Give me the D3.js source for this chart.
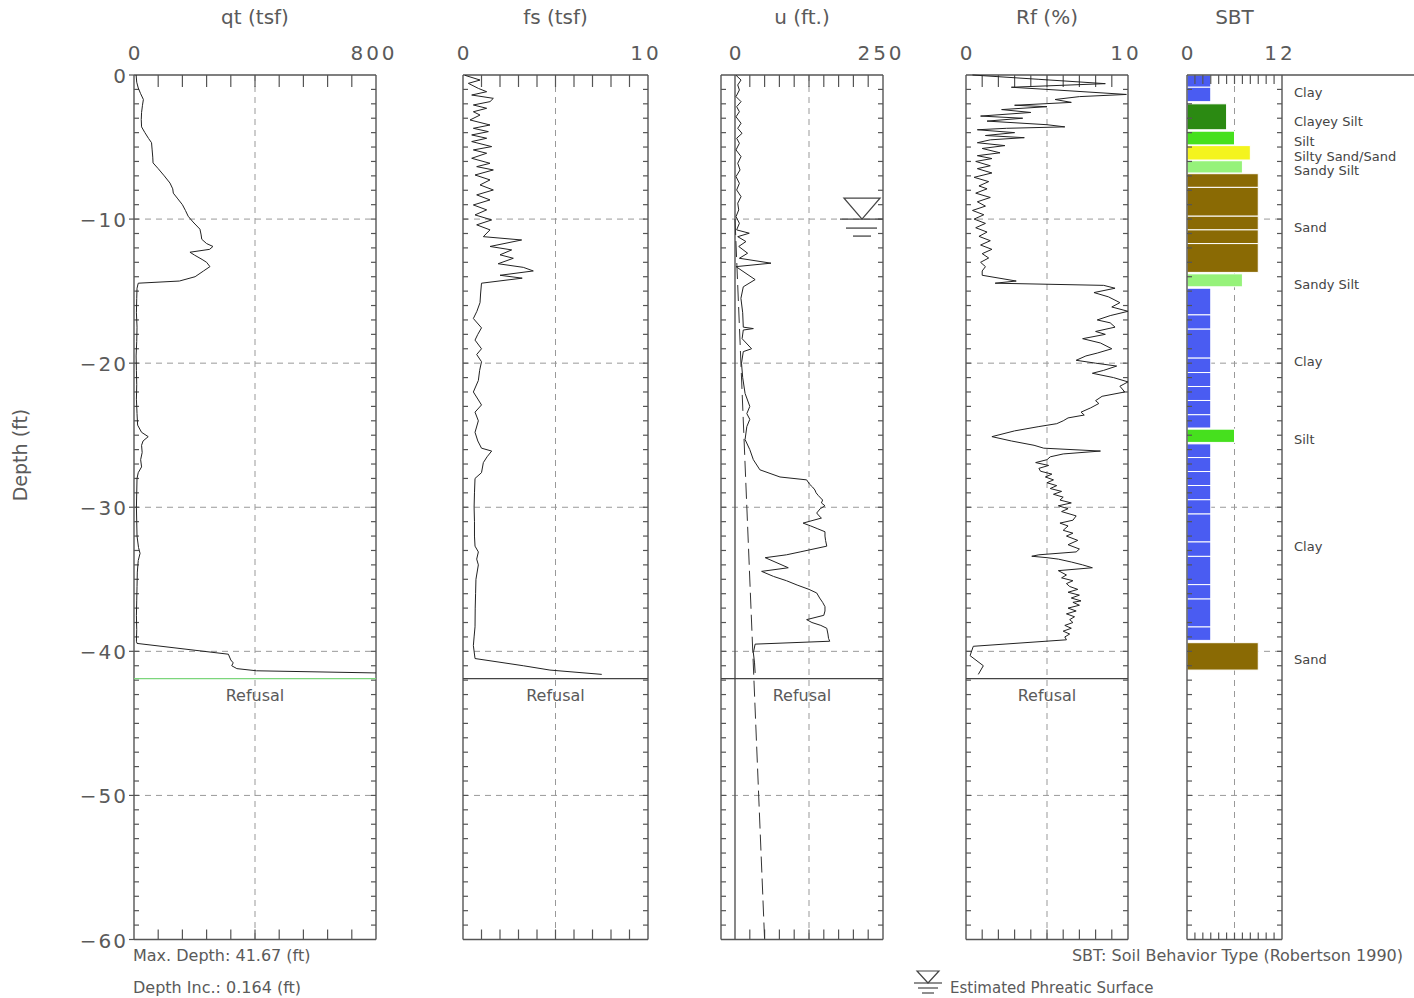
<!DOCTYPE html>
<html>
<head>
<meta charset="utf-8">
<script src="https://cdn.jsdelivr.net/npm/d3@7"></script>
<style>
body{margin:0;background:#fff;}
text{font-family:"DejaVu Sans",sans-serif;fill:#5a5a5a;}
</style>
</head>
<body>
<svg id="chart" width="1414" height="998"></svg>
<script>
var depthTicks = [0,10,20,30,40,50,60];

var qtDepth = [0,0.5,0.9,1.3,1.7,2.1,2.6,3.1,3.6,4.0,4.4,4.7,5.2,5.7,6.1,6.5,7.0,7.5,7.9,8.2,8.6,9.0,9.4,9.8,10.2,10.7,11.1,11.4,11.7,11.9,12.1,12.3,12.5,12.8,13.0,13.3,13.6,14.0,14.3,14.45,14.8,15.5,16.5,17.5,18.5,19.5,20.5,21.5,22.5,23.5,24.3,24.8,25.1,25.4,25.7,26.2,26.7,27.2,27.6,28.0,29,30,31,32,32.8,33.2,33.7,34.5,35.5,36.5,37.5,38.5,39.3,39.45,40.2,40.6,40.8,41.0,41.2,41.35,41.5];
var qtValue = [7,9,14,22,31,28,25,24,25,36,48,58,60,62,63,80,100,119,128,130,145,160,170,179,195,218,222,224,240,261,250,185,200,225,240,251,230,202,150,14,10,9,8,10,9,7,8,9,8,10,12,25,47,30,25,27,22,25,14,10,9,8,9,10,15,20,14,11,10,9,8,9,8,10,312,320,328,323,340,405,800];

var fsDepth = [0.02,0.35,0.58,0.93,1.16,1.39,1.62,1.85,2.08,2.31,2.55,2.78,3.12,3.47,3.7,3.93,4.16,4.39,4.62,4.97,5.2,5.43,5.78,6.13,6.36,6.59,6.94,7.28,7.63,7.98,8.32,8.67,9.02,9.36,9.71,10.06,10.4,10.75,11.22,11.45,11.9,12.14,12.48,12.72,13.1,13.35,13.6,13.9,14.1,14.45,15.2,15.8,16.4,16.9,17.55,18.0,18.4,19.0,19.4,19.9,20.5,21.2,22.0,22.9,23.4,24.0,24.8,25.4,25.9,26.1,26.5,26.9,27.6,28.0,29,30,31,32,32.7,33.1,33.6,34,35,36,37,38.3,39.0,39.6,40.5,41.0,41.3,41.6];
var fsValue = [0.1,0.92,0.29,0.83,1.28,0.47,1.64,1.46,0.56,1.28,0.56,0.92,0.38,1.46,0.56,1.37,0.47,1.28,0.47,1.55,0.56,1.28,0.47,1.46,0.74,1.64,0.65,1.46,0.92,1.64,0.74,1.46,0.56,1.28,0.65,1.55,0.74,1.46,1.1,3.17,1.46,2.63,2.0,2.72,1.9,3.26,3.8,2.0,3.2,1.0,0.95,0.92,0.75,0.56,1.0,0.8,0.65,1.0,0.74,1.0,0.9,0.83,0.56,1.0,0.65,0.83,0.65,0.8,1.0,1.55,1.3,1.1,1.0,0.65,0.62,0.6,0.62,0.62,0.65,0.83,0.74,0.83,0.7,0.68,0.66,0.65,0.6,0.56,0.65,3.26,4.7,7.5];

var uDepth = [0.02,0.35,0.69,1.04,1.5,1.85,2.2,2.55,2.9,3.35,3.7,4.05,4.39,4.74,5.2,5.66,6.13,6.59,7.05,7.52,7.98,8.44,8.9,9.36,9.83,10.29,10.75,10.98,11.22,11.56,11.9,12.37,12.72,13.06,13.3,14.2,14.7,15.5,16.5,17.5,17.6,17.7,18.3,19.0,19.2,20.0,21.0,22.1,23.0,23.5,23.9,24.4,25.3,26.0,26.7,27.4,27.9,28.1,28.4,28.6,28.8,29.0,29.2,29.5,29.7,29.9,30.1,30.4,30.6,30.75,31.1,31.3,31.5,31.7,32.0,32.3,32.7,33.1,33.3,33.5,34.2,34.45,34.8,35.1,35.4,35.7,35.95,36.3,36.6,36.9,37.2,37.5,37.8,38.0,38.2,38.4,38.8,39.1,39.3,39.5,40.1,40.8,41.5];
var uValue = [1.7,10.2,4.6,7.4,1.7,10.2,2.8,7.4,1.7,10.2,4.6,11.9,2.8,7.4,1.7,10.2,4.6,8.5,1.7,7.4,2.8,10.2,4.6,6.3,1.7,7.4,2.8,24.1,4.6,18.5,6.3,21.3,7.4,60.8,1.7,34,14,10,13,14,31,14,12,28,14,11,13,17,25,20,25,20,17,25,31,42,76,121,126,131,135,137,141,148,146,152,144,138,142,146,115,128,140,152,152,153,155,110,87,51,90,45,65,87,105,125,138,143,148,152,152,150,121,130,145,155,157,158,160,34,31,33,34];

// hydrostatic pressure line (end points)
var hydroDepth = [10,60];
var hydroU = [0,50];
var waterDepth = 10;

var rfDepth = [0,0.3,0.6,0.85,1.0,1.35,1.5,1.7,1.9,2.1,2.2,2.4,2.6,2.85,3.0,3.2,3.45,3.6,3.7,3.8,4.0,4.2,4.35,4.5,4.7,4.9,5.1,5.4,5.6,5.8,6.0,6.3,6.5,6.8,7.1,7.4,7.7,7.9,8.2,8.5,8.8,9.1,9.4,9.7,10.0,10.3,10.6,10.9,11.2,11.5,11.8,12.1,12.4,12.7,13.0,13.3,13.6,13.9,14.3,14.45,14.6,14.8,15.1,15.4,15.8,16.1,16.4,16.7,17.0,17.2,17.5,17.8,18.0,18.3,18.6,19.0,19.3,19.5,19.8,20.0,20.2,20.5,20.7,21.0,21.3,21.6,22.0,22.3,22.6,22.8,23.1,23.4,23.6,23.8,24.0,24.2,24.4,24.7,25.1,25.4,25.7,25.9,26.1,26.3,26.5,26.7,26.9,27.1,27.3,27.5,27.7,27.9,28.1,28.3,28.5,28.7,28.9,29.1,29.3,29.5,29.7,29.9,30.1,30.3,30.6,30.9,31.1,31.3,31.6,31.8,32.0,32.3,32.6,32.9,33.1,33.3,33.4,33.5,33.6,33.8,34.0,34.2,34.4,34.7,34.9,35.1,35.3,35.5,35.7,35.9,36.1,36.3,36.5,36.6,36.8,37.0,37.2,37.4,37.6,37.8,38.0,38.2,38.4,38.6,38.8,39.0,39.2,39.65,40.3,41.0,41.6];
var rfValue = [0.4,4.5,8.6,2.8,5.0,9.9,7.0,5.5,6.5,3.0,5.0,2.2,4.0,0.9,3.5,1.3,5.0,6.1,2.5,0.7,3.0,1.2,3.6,1.5,0.7,2.4,1.0,2.1,0.7,1.6,0.6,1.5,0.7,1.6,0.5,1.4,0.8,1.3,0.6,1.5,0.7,1.2,0.4,1.1,0.5,1.2,0.6,1.3,0.8,1.5,0.9,1.6,1.0,1.4,0.9,1.2,1.0,1.0,3.1,1.8,8.5,9.2,7.9,8.8,9.5,9.0,10,8.9,8.1,8.9,9.2,8.0,8.6,7.2,8.3,9.0,8.1,7.4,6.8,8.0,9.3,8.5,7.8,9.1,10,9.5,9.8,8.4,8.0,8.2,7.7,7.1,7.3,6.3,6.0,5.6,4.5,3.0,1.6,2.8,4.2,4.8,8.3,6.0,5.2,5.0,4.3,5.1,4.5,4.6,5.3,4.9,5.4,5.0,5.6,5.2,5.9,5.4,6.0,5.8,6.5,5.7,6.3,5.9,6.8,6.6,5.8,6.3,6.0,6.6,6.2,6.9,6.3,7.0,6.8,4.5,4.06,5.0,5.7,6.5,7.2,7.8,5.7,6.2,5.9,6.6,6.2,6.4,6.9,6.3,7.0,6.5,7.1,6.6,7.0,6.3,6.8,6.2,6.7,6.4,6.6,6.1,6.5,6.0,6.4,6.1,6.2,0.45,0.25,1.07,0.76];

var sbtTop  = [0,0.85,2.0,3.9,4.9,5.95,6.85,7.8,9.8,10.75,11.7,13.8,14.8,16.65,17.64,19.65,20.65,21.62,22.59,23.58,24.58,25.6,26.55,27.52,28.49,29.48,30.47,32.41,33.41,35.37,36.37,38.31,39.4];
var sbtBase = [0.85,1.85,3.8,4.85,5.9,6.8,7.8,9.8,10.75,11.7,13.7,14.7,16.65,17.64,19.65,20.65,21.62,22.59,23.58,24.5,25.5,26.55,27.52,28.49,29.48,30.47,32.41,33.41,35.37,36.37,38.31,39.24,41.3];
var sbtZone = [3,3,5,6,8,7,9,9,9,9,9,7,3,3,3,3,3,3,3,3,6,3,3,3,3,3,3,3,3,3,3,3,9];

var zoneNum   = [3,5,6,7,8,9];
var zoneColor = ["#4a5cf2","#2b8a12","#46e01e","#96f27a","#f4f41e","#8a6a04"];

var sbtLabel      = ["Clay","Clayey Silt","Silt","Silty Sand/Sand","Sandy Silt","Sand","Sandy Silt","Clay","Silt","Clay","Sand"];
var sbtLabelDepth = [1.18,3.19,4.58,5.62,6.59,10.54,14.5,19.84,25.25,32.67,40.5];

var refusalDepth = 41.9;

// ---- layout ----
var svg = d3.select("#chart");
var y = d3.scaleLinear().domain([0,60]).range([75,939.5]);

var panels = [
	{title:"qt (tsf)", max:800, step:80, left:134, right:376, box:134, depth:qtDepth, val:qtValue, label:"800"},
	{title:"fs (tsf)", max:10, step:1, left:463, right:648, box:463, depth:fsDepth, val:fsValue, label:"10"},
	{title:"u (ft.)", max:250, step:25, left:735, right:883, box:721, depth:uDepth, val:uValue, label:"250"},
	{title:"Rf (%)", max:10, step:1, left:966, right:1128, box:966, depth:rfDepth, val:rfValue, label:"10"},
	{title:"SBT", max:12, step:1, left:1187, right:1282, box:1187, label:"12"}
];

var frame = "#555";

panels.forEach(function(p, pi){
	p.x = d3.scaleLinear().domain([0,p.max]).range([p.left,p.right]);
	var g = svg.append("g");
	var cx = (p.box+p.right)/2;

	g.append("text").attr("x",cx).attr("y",24).attr("text-anchor","middle")
		.style("font-size","20px").text(p.title);
	g.append("text").attr("x",p.left).attr("y",60).attr("text-anchor","middle")
		.style("font-size","20px").text("0");
	g.append("text").attr("x",p.right-2).attr("y",60).attr("text-anchor","middle")
		.style("font-size","20px").style("letter-spacing","3px").text(p.label);

	// grid
	var grid = g.append("g").attr("stroke","#999").attr("stroke-dasharray","6,5").attr("fill","none");
	grid.append("line").attr("x1",p.x(p.max/2)).attr("x2",p.x(p.max/2))
		.attr("y1",y(0)).attr("y2",y(60));
	grid.selectAll("line.h").data([10,20,30,40,50]).enter().append("line")
		.attr("class","h")
		.attr("x1",p.box).attr("x2",p.right)
		.attr("y1",function(d){return y(d);}).attr("y2",function(d){return y(d);});

	// sbt bars
	if (pi===4){
		var sbt = sbtTop.map(function(t,i){return {top:t, base:sbtBase[i], zone:sbtZone[i]};});
		g.selectAll("rect.sbt").data(sbt).enter().append("rect")
			.attr("x",p.x(0))
			.attr("y",function(d){return y(d.top);})
			.attr("width",function(d){return p.x(d.zone)-p.x(0);})
			.attr("height",function(d){return y(d.base)-y(d.top);})
			.attr("fill",function(d){return zoneColor[zoneNum.indexOf(d.zone)];})
			.attr("stroke","#fff").attr("stroke-width",1);
		g.selectAll("text.sbtl").data(sbtLabel).enter().append("text")
			.attr("x",1294)
			.attr("y",function(d,i){return y(sbtLabelDepth[i])+5;})
			.style("font-size","13px").style("fill","#444")
			.text(function(d){return d;});
	}

	// frame
	var fr = g.append("g").attr("stroke",frame).attr("stroke-width",1.4).attr("fill","none");
	fr.append("line").attr("x1",p.box).attr("x2",p.right).attr("y1",y(0)).attr("y2",y(0));
	fr.append("line").attr("x1",p.box).attr("x2",p.right).attr("y1",y(60)).attr("y2",y(60));
	fr.append("line").attr("x1",p.box).attr("x2",p.box).attr("y1",y(0)).attr("y2",y(60));
	fr.append("line").attr("x1",p.right).attr("x2",p.right).attr("y1",y(0)).attr("y2",y(60));
	if (p.box!==p.left){
		fr.append("line").attr("x1",p.left).attr("x2",p.left).attr("y1",y(0)).attr("y2",y(60));
	}
	if (pi===4){
		fr.append("line").attr("x1",p.right).attr("x2",1414).attr("y1",y(0)).attr("y2",y(0));
	}

	// top / bottom ticks
	var tl = pi===4 ? 9 : 12;
	var xt = d3.range(p.step, p.max, p.step).map(function(v){return +v.toFixed(3);});
	var tk = g.append("g").attr("stroke",frame).attr("stroke-width",1.2);
	tk.selectAll("line.t").data(xt).enter().append("line")
		.attr("x1",function(d){return p.x(d);}).attr("x2",function(d){return p.x(d);})
		.attr("y1",y(0)).attr("y2",y(0)+tl);
	tk.selectAll("line.b").data(xt).enter().append("line")
		.attr("x1",function(d){return p.x(d);}).attr("x2",function(d){return p.x(d);})
		.attr("y1",y(60)).attr("y2",y(60)-tl+2);

	// side ticks, every foot
	var yt = d3.range(1,60);
	tk.selectAll("line.l").data(yt).enter().append("line")
		.attr("x1",p.box).attr("x2",p.box+5)
		.attr("y1",function(d){return y(d);}).attr("y2",function(d){return y(d);});
	tk.selectAll("line.r").data(yt).enter().append("line")
		.attr("x1",p.right).attr("x2",p.right-5)
		.attr("y1",function(d){return y(d);}).attr("y2",function(d){return y(d);});

	// refusal
	if (pi<4){
		g.append("line").attr("x1",p.box).attr("x2",p.right)
			.attr("y1",y(refusalDepth)).attr("y2",y(refusalDepth))
			.attr("stroke", pi===0 ? "#7cd67c" : "#444").attr("stroke-width",1.2);
		g.append("text").attr("x",cx).attr("y",y(refusalDepth)+22).attr("text-anchor","middle")
			.style("font-size","16px").text("Refusal");
	}

	// trace
	if (p.depth){
		var pts = p.depth.map(function(d,i){return [p.val[i], d];});
		var line = d3.line().x(function(d){return p.x(d[0]);}).y(function(d){return y(d[1]);});
		g.append("path").datum(pts).attr("d",line)
			.attr("fill","none").attr("stroke","#222").attr("stroke-width",1);
	}

	// u panel extras
	if (pi===2){
		var hp = hydroDepth.map(function(d,i){return [hydroU[i], d];});
		g.append("path").datum(hp)
			.attr("d",d3.line().x(function(d){return p.x(d[0]);}).y(function(d){return y(d[1]);}))
			.attr("fill","none").attr("stroke","#333").attr("stroke-width",1)
			.attr("stroke-dasharray","16,6");
		var wy = y(waterDepth), ax = 862;
		var ws = g.append("g").attr("stroke","#444").attr("stroke-width",1.3).attr("fill","none");
		ws.append("path").attr("d","M"+(ax-18)+","+(wy-21)+"L"+(ax+18)+","+(wy-21)+"L"+ax+","+wy+"Z").attr("fill","#fff");
		ws.append("line").attr("x1",840).attr("x2",883).attr("y1",wy).attr("y2",wy);
		ws.append("line").attr("x1",846).attr("x2",877).attr("y1",wy+9).attr("y2",wy+9);
		ws.append("line").attr("x1",853).attr("x2",871).attr("y1",wy+17).attr("y2",wy+17);
	}
});

// depth axis labels (left of qt)
var ax0 = panels[0].box;
svg.selectAll("text.dl").data(depthTicks).enter().append("text")
	.attr("x",ax0-6).attr("y",function(d){return y(d)+8;})
	.attr("text-anchor","end").style("font-size","20px").style("letter-spacing","2px")
	.text(function(d){return d===0 ? "0" : "\u2212"+d;});
svg.selectAll("line.dt").data(depthTicks).enter().append("line")
	.attr("x1",ax0-5).attr("x2",ax0).attr("y1",function(d){return y(d);}).attr("y2",function(d){return y(d);})
	.attr("stroke",frame).attr("stroke-width",1.2);

svg.append("text").attr("transform","translate(27,455) rotate(-90)")
	.attr("text-anchor","middle").style("font-size","19px").text("Depth (ft)");

// footer notes
svg.append("text").attr("x",133).attr("y",961).style("font-size","16px").text("Max. Depth: 41.67 (ft)");
svg.append("text").attr("x",133).attr("y",993).style("font-size","16px").text("Depth Inc.: 0.164 (ft)");
svg.append("text").attr("x",1403).attr("y",961).attr("text-anchor","end").style("font-size","16px")
	.text("SBT: Soil Behavior Type (Robertson 1990)");
var lg = svg.append("g").attr("stroke","#444").attr("stroke-width",1.2).attr("fill","none");
lg.append("path").attr("d","M917,971L939,971L928,983Z");
lg.append("line").attr("x1",914).attr("x2",942).attr("y1",983).attr("y2",983);
lg.append("line").attr("x1",918).attr("x2",938).attr("y1",988).attr("y2",988);
lg.append("line").attr("x1",922).attr("x2",934).attr("y1",993).attr("y2",993);
svg.append("text").attr("x",950).attr("y",993).style("font-size","15px").text("Estimated Phreatic Surface");
</script>
</body>
</html>
